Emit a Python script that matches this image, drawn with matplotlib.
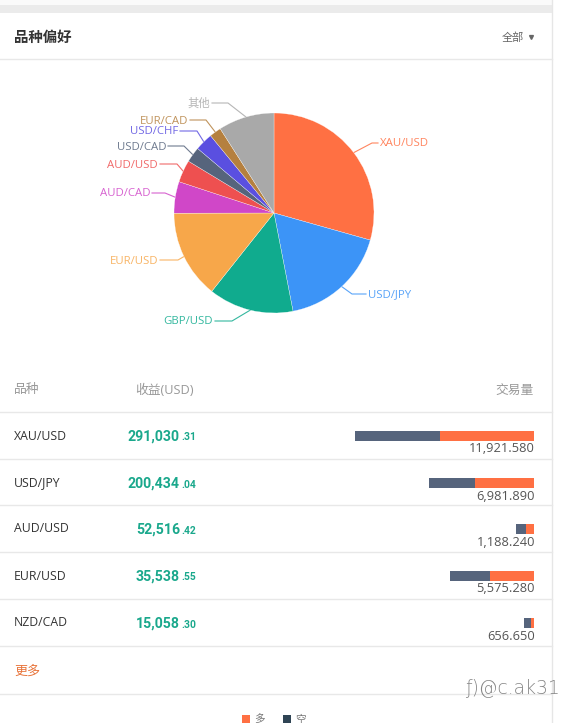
import numpy as np
import matplotlib
matplotlib.use("Agg")
import matplotlib.pyplot as plt

plt.rcParams['font.family'] = ['Open Sans', 'Noto Sans CJK SC', 'DejaVu Sans']

W, H = 564, 723

# pie data
pie_names = ['XAU/USD', 'USD/JPY', 'GBP/USD', 'EUR/USD', 'AUD/CAD', 'AUD/USD', 'USD/CAD', 'USD/CHF', 'EUR/CAD', '其他']
pie_share = [29.4, 17.6, 13.75, 14.3, 5.1, 3.6, 2.5, 2.9, 1.9, 9.05]
pie_colors = ['#ff7043', '#3c94f7', '#10ab8e', '#f7a74a', '#d047c8', '#ee5050', '#56647c', '#5a4fe0', '#b5803f', '#a9a9a9']

# table data
rows = ['XAU/USD', 'USD/JPY', 'AUD/USD', 'EUR/USD', 'NZD/CAD']
profit_int = ['291,030', '200,434', '52,516', '35,538', '15,058']
profit_dec = ['.31', '.04', '.42', '.55', '.30']
volume = [11921.580, 6981.890, 1188.240, 5575.280, 656.650]
volume_long = [6260, 3923, 528, 2920, 197]


def rect(x0, y0, x1, y1):
    return [x0 / W, 1 - y1 / H, (x1 - x0) / W, (y1 - y0) / H]


fig = plt.figure(figsize=(W / 100, H / 100), dpi=100, facecolor='white')

# background layer in pixels
bg = fig.add_axes([0, 0, 1, 1])
bg.set_xlim(0, W)
bg.set_ylim(H, 0)
bg.axis('off')
bg.fill_between([0, 552], 0, 5, color='#fafafa', lw=0)
bg.fill_between([0, 552], 5, 13, color='#ebebeb', lw=0)
bg.plot([552, 552], [0, H], color='#e6e6e6', lw=1)
for y in [59, 412, 459, 505, 552, 599, 646, 694]:
    bg.plot([0, 552], [y, y], color='#e8e8e8', lw=1)

bg.text(14, 38, '品种偏好', fontsize=10.4, fontweight='bold', color='#333333', va='center')
bg.text(502, 38, '全部', fontsize=8, color='#666666', va='center')
bg.plot([530.5], [36.5], marker='v', ms=2.8, color='#666666', lw=0)

# pie
cx, cy, r = 274, 213, 100
pax = fig.add_axes(rect(cx - r, cy - r, cx + r, cy + r))
wedges, _ = pax.pie(pie_share, colors=pie_colors, startangle=90, counterclock=False, radius=1,
                    wedgeprops=dict(edgecolor='#ffffff', linewidth=0.2))
pax.set_xlim(-1, 1)
pax.set_ylim(-1, 1)

# leader lines: elbow x,y and end x for each label
elbows = [(372, 143, 378), (352, 294, 366), (232, 321, 215), (178, 260, 160), (165, 193, 152),
          (177, 164, 160), (184, 146, 168), (197, 131, 180), (206, 120, 190), (228, 103, 212)]
for w, name, col, (ex, ey, tx) in zip(wedges, pie_names, pie_colors, elbows):
    mid = np.deg2rad((w.theta1 + w.theta2) / 2)
    sx, sy = cx + r * np.cos(mid), cy - r * np.sin(mid)
    bg.plot([sx, ex, tx], [sy, ey, ey], color=col, lw=0.8, alpha=0.85)
    if tx > ex:
        bg.text(tx + 2, ey + 1, name, fontsize=8.2, color=col, alpha=0.85, va='center', ha='left')
    else:
        bg.text(tx - 2, ey + 1, name, fontsize=8.2, color=col, alpha=0.85, va='center', ha='right')

# table
bg.text(14, 390, '品种', fontsize=9.2, color='#999999', va='center')
bg.text(194, 390, '收益(USD)', fontsize=9.2, color='#999999', va='center', ha='right')
bg.text(534, 390, '交易量', fontsize=9.2, color='#999999', va='center', ha='right')

row_y = [436, 483, 529, 576, 623]
for name, pi, pd_, y in zip(rows, profit_int, profit_dec, row_y):
    bg.text(14, y, name, fontsize=8.8, color='#333333', va='center')
    bg.text(181, y + 1.5, pd_, fontsize=7.4, fontweight='bold', color='#1aa88c', va='center',
            ha='left', family='Roboto')
    bg.text(180, y + 0.5, pi, fontsize=10.2, fontweight='bold', color='#1aa88c', va='center',
            ha='right', family='Roboto')

bg.text(14, 671, '更多', fontsize=9.4, color='#e8743b', va='center')

# volume bars, scaled to the biggest volume, growing leftwards from x=534
bax = fig.add_axes(rect(355, 412, 534, 646))
bax.set_xlim(max(volume), 0)
bax.set_ylim(646, 412)
bax.axis('off')
long_v = np.array(volume_long)
short_v = np.array(volume) - long_v
bax.barh(row_y, long_v, height=9.5, color='#ff7043', lw=0)
bax.barh(row_y, short_v, left=long_v, height=9.5, color='#56647c', lw=0)
for v, y in zip(volume, row_y):
    bg.text(535, y + 13, f'{v:,.3f}', fontsize=9.3, color='#555555', va='center', ha='right')

# legend cut off by the bottom edge
bg.fill_between([242, 250], 715, 723, color='#ff7043', lw=0)
bg.text(254, 720, '多', fontsize=7.6, color='#777777', va='center')
bg.fill_between([283, 291], 715, 723, color='#2f4454', lw=0)
bg.text(295, 720, '空', fontsize=7.6, color='#777777', va='center')

# watermark
bg.text(465, 688, 'ƒ)@c.ak31', fontsize=13.5, color='#555555', va='center', family='DejaVu Sans',
        fontweight='light', alpha=0.7)

fig.savefig('out.png', dpi=100)
